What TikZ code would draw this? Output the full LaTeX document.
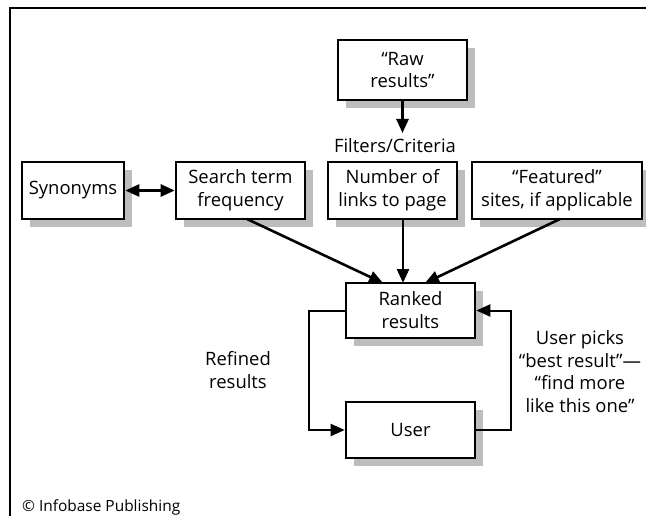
\documentclass[tikz,border=0pt]{standalone}
\usepackage{fontspec}
\setmainfont{Open Sans}
\usetikzlibrary{arrows.meta}
\definecolor{shadowgray}{HTML}{BDBDBD}
\tikzset{
  box/.style={draw=black, line width=2.6bp, fill=white, align=center, inner sep=0pt,
    font=\fontsize{18.5}{23}\selectfont,
    minimum height=57bp},
  lbl/.style={align=center, inner sep=0pt, font=\fontsize{18.5}{22.5}\selectfont},
  arr/.style={line width=2.6bp, -{Triangle[length=14bp,width=12bp]}},
  darr/.style={line width=2.6bp, {Triangle[length=14bp,width=12bp]}-{Triangle[length=14bp,width=12bp]}},
  loop/.style={line width=2bp, -{Triangle[length=14bp,width=12bp]}},
}
\begin{document}
\begin{tikzpicture}[x=1bp,y=-1bp]
\useasboundingbox (0,0) rectangle (646,516);
% frame
\draw[line width=1.5bp] (646,8) -- (10,8) -- (10,516);
% shadows
\fill[shadowgray] (346,48) rectangle (475,108);
\fill[shadowgray] (30,170) rectangle (132,227);
\fill[shadowgray] (184,170) rectangle (313,227);
\fill[shadowgray] (336,170) rectangle (465,227);
\fill[shadowgray] (480,170) rectangle (646,227);
\fill[shadowgray] (354,291) rectangle (483,346);
\fill[shadowgray] (354,410) rectangle (483,466);
% boxes
\node[box, minimum width=129bp, minimum height=60bp] (raw) at (402.5,70) {“Raw\\results”};
\node[box, minimum width=102bp] (syn) at (73,190.5) {Synonyms};
\node[box, minimum width=129bp] (search) at (240.5,190.5) {Search term\\frequency};
\node[box, minimum width=129bp] (num) at (392.5,190.5) {Number of\\links to page};
\node[box, minimum width=170bp] (feat) at (557,190.5) {“Featured”\\sites, if applicable};
\node[box, minimum width=129bp, minimum height=55bp] (ranked) at (410.5,310.5) {Ranked\\results};
\node[box, minimum width=129bp, minimum height=56bp] (user) at (410.5,430) {User};
% labels
\node[lbl] (filters) at (395,146) {Filters/Criteria};
\node[lbl] (refined) at (238,370) {Refined\\results};
\node[lbl] (picks) at (580,371.5) {User picks\\“best result”—\\“find more\\like this one”};
\node[lbl, anchor=west, font=\fontsize{15.5}{18}\selectfont] (copy) at (22,507) {© Infobase Publishing};
% connectors
\coordinate (filtop) at (402.5,133);
\draw[arr] (raw.south) -- (filtop);
\draw[darr] (syn.east) -- (search.west);
\coordinate (sb) at (247,219);
\coordinate (rt1) at (383,283);
\draw[arr] (sb) -- (rt1);
\coordinate (nb) at (403,219);
\coordinate (rt2) at (403,283);
\draw[arr] (nb) -- (rt2);
\coordinate (fb) at (560,219);
\coordinate (rt3) at (425,283);
\draw[arr] (fb) -- (rt3);
\draw[loop] (ranked.west) -- ++(-36,0) |- (user.west);
\draw[loop] (user.east) -- ++(35,0) |- (ranked.east);
\end{tikzpicture}
\end{document}
